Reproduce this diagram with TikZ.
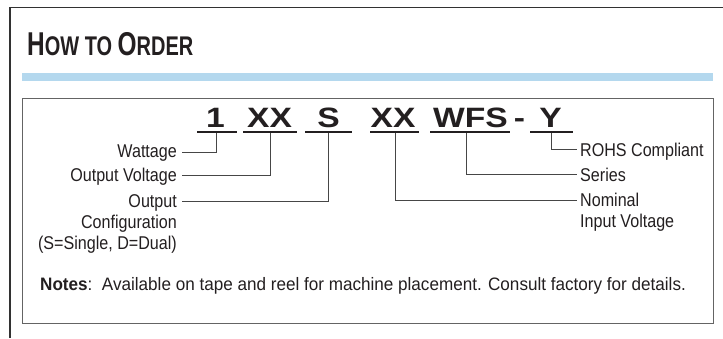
\documentclass[tikz,border=0pt]{standalone}
\usepackage{fontspec}
\setmainfont{Liberation Sans}
\newfontfamily\condfont[FakeStretch=0.87]{Liberation Sans}
\newfontfamily\notefont[FakeStretch=0.95]{Liberation Sans}
\newfontfamily\titlefont[FakeStretch=0.74]{Liberation Sans}
\newfontfamily\codefont[FakeStretch=1.2]{Liberation Sans}
\definecolor{barblue}{RGB}{180,216,238}
\definecolor{ink}{RGB}{35,31,32}
\definecolor{connc}{RGB}{70,70,70}
\definecolor{framec}{RGB}{50,50,50}
\definecolor{boxc}{RGB}{100,100,100}
\tikzset{
  lbl/.style={inner sep=0pt, text=ink, font=\condfont\fontsize{18.5}{21}\selectfont},
  codetxt/.style={inner sep=0pt, anchor=base, text=ink, font=\codefont\bfseries\fontsize{28}{30}\selectfont},
  uline/.style={line width=2.2pt, draw=ink},
  conn/.style={line width=0.9pt, draw=connc},
}
\begin{document}
\begin{tikzpicture}[x=1pt,y=-1pt]
\fill[white] (0,0) rectangle (723,338);
\useasboundingbox (0,0) rectangle (723,338);
% outer frame
\draw[line width=1.4pt, draw=framec] (10,338) -- (10,7.3) -- (723,7.3);
% title
\node[inner sep=0pt, anchor=base west, text=ink] (title) at (27,55)
  {\titlefont\bfseries\fontsize{33}{34}\selectfont H\fontsize{27}{28}\selectfont OW TO \fontsize{33}{34}\selectfont O\fontsize{27}{28}\selectfont RDER};
% blue bar
\fill[barblue] (22,73) rectangle (713,81);
% inner box
\draw[line width=1pt, draw=boxc] (22,98) rectangle (713,323);
% code
\node[codetxt] (c1) at (215.5,127) {1};
\node[codetxt] (c2) at (269.5,127) {XX};
\node[codetxt] (c3) at (328.5,127) {S};
\node[codetxt] (c4) at (393,127) {XX};
\node[codetxt] (c5) at (470.5,127) {WFS};
\node[codetxt] (dash) at (519.5,127) {-};
\node[codetxt] (c6) at (550.5,127) {Y};
% underlines
\draw[uline] (197,132) -- (237,132);
\draw[uline] (243,132) -- (297,132);
\draw[uline] (305,132) -- (352,132);
\draw[uline] (370,132) -- (419,132);
\draw[uline] (430,132) -- (510,132);
\draw[uline] (530,132) -- (573,132);
\coordinate (t1) at (216,133);
\coordinate (t2) at (270,133);
\coordinate (t3) at (328.5,133);
\coordinate (t4) at (395,133);
\coordinate (t5) at (466,133);
\coordinate (t6) at (551,133);
% left labels
\node[lbl, anchor=base east] (lw) at (177,157) {Wattage};
\node[lbl, anchor=base east] (lv) at (177,181) {Output Voltage};
\node[lbl, anchor=base east] (lo) at (177,207) {Output};
\node[lbl, anchor=base east] (lo2) at (177,228.5) {Configuration};
\node[lbl, anchor=base east] (lo3) at (177,249) {(S=Single, D=Dual)};
\coordinate (ew) at (182,152);
\coordinate (ev) at (182,175);
\coordinate (eo) at (182,201);
\draw[conn] (t1) |- (ew);
\draw[conn] (t2) |- (ev);
\draw[conn] (t3) |- (eo);
% right labels
\node[lbl, anchor=base west] (lr) at (580,156) {ROHS Compliant};
\node[lbl, anchor=base west] (ls) at (580,181.5) {Series};
\node[lbl, anchor=base west] (ln) at (580,206.5) {Nominal};
\node[lbl, anchor=base west] (ln2) at (580,227.5) {Input Voltage};
\coordinate (er) at (577,149);
\coordinate (es) at (577,174.3);
\coordinate (en) at (577,200);
\draw[conn] (t6) |- (er);
\draw[conn] (t5) |- (es);
\draw[conn] (t4) |- (en);
% notes
\node[inner sep=0pt, anchor=base west, text=ink, font=\notefont\fontsize{18}{21}\selectfont] (notes) at (40,290)
  {\textbf{Notes}:\ \ Available on tape and reel for machine placement. Consult factory for details.};
\end{tikzpicture}
\end{document}
